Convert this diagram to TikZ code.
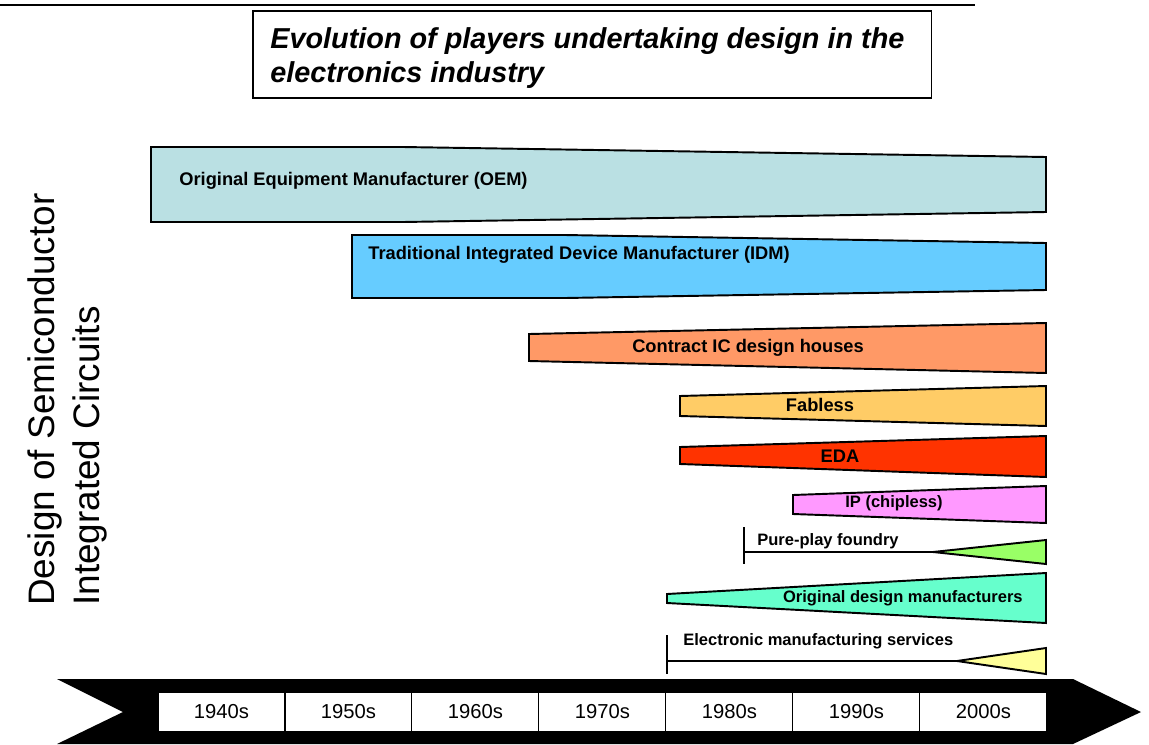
\documentclass[tikz,border=0pt]{standalone}
\usepackage{fontspec}
\setmainfont{Liberation Sans}
\usetikzlibrary{positioning}
\definecolor{oemcol}{rgb}{0.73, 0.88, 0.89}
\definecolor{idmcol}{rgb}{0.4, 0.8, 1}
\definecolor{contractcol}{rgb}{1, 0.6, 0.4}
\definecolor{fablesscol}{rgb}{1, 0.8, 0.4}
\definecolor{edacol}{rgb}{1, 0.2, 0}
\definecolor{ipcol}{rgb}{1, 0.6, 1}
\definecolor{foundrycol}{rgb}{0.6, 1, 0.4}
\definecolor{odmcol}{rgb}{0.4, 1, 0.8}
\definecolor{emscol}{rgb}{1, 1, 0.6}
\tikzstyle{bar} = [draw=black, line width=1.1pt, line join=miter]
\tikzstyle{barlabel} = [inner sep=0pt, font=\fontsize{10.4}{12}\selectfont\bfseries]
\tikzstyle{smalllabel} = [inner sep=0pt, font=\fontsize{9.4}{11}\selectfont\bfseries]
\tikzstyle{decade} = [draw, line width=0.6pt, fill=white, minimum width=2.54cm, minimum height=0.8cm, inner sep=0pt, outer sep=0pt, font=\fontsize{11.5}{13}\selectfont]

\begin{document}
\begin{tikzpicture}[x=0.02cm, y=-0.02cm]
		\useasboundingbox (0,0) rectangle (1149,744);
		\draw[line width=1.3pt] (0,5) -- (975,5);
		\node [draw, line width=0.9pt, minimum width=13.58cm, minimum height=1.74cm, anchor=north west, inner sep=0pt] (titlebox) at (252,10) {};
		\node [anchor=north west, align=left, inner sep=0pt, font=\fontsize{16.4}{19.5}\selectfont\bfseries\itshape] (title) at (270,27) {Evolution of players undertaking design in the\\electronics industry};
		\node [rotate=90, anchor=north west, align=left, inner sep=0pt, font=\fontsize{21}{26}\selectfont] (axis) at (27,606) {Design of Semiconductor\\Integrated Circuits};

		\draw[bar, fill=oemcol] (151,147) -- (403,147) -- (1046,157) -- (1046,212) -- (403,222) -- (151,222) -- cycle;
		\draw[bar, fill=idmcol] (352,235) -- (565,235) -- (1046,243) -- (1046,290) -- (565,298) -- (352,298) -- cycle;
		\draw[bar, fill=contractcol] (529,334) -- (1046,323) -- (1046,373) -- (529,361) -- cycle;
		\draw[bar, fill=fablesscol] (680,396) -- (1046,386) -- (1046,426) -- (680,416) -- cycle;
		\draw[bar, fill=edacol] (680,447) -- (1046,436) -- (1046,477) -- (680,464) -- cycle;
		\draw[bar, fill=ipcol] (793,495) -- (1046,486) -- (1046,523) -- (793,514) -- cycle;
		\draw[bar, fill=odmcol] (667,594) -- (1046,573) -- (1046,623) -- (667,603) -- cycle;

		\coordinate (ppstart) at (744,552);
		\coordinate (pptip) at (933,552);
		\draw[line width=1.1pt] (744,527) -- (744,564);
		\draw[line width=1.1pt] (ppstart) -- (pptip);
		\draw[bar, fill=foundrycol] (pptip) -- (1046,540) -- (1046,564) -- cycle;

		\coordinate (emsstart) at (667,661);
		\coordinate (emstip) at (957,661);
		\draw[line width=1.1pt] (667,635) -- (667,674);
		\draw[line width=1.1pt] (emsstart) -- (emstip);
		\draw[bar, fill=emscol] (emstip) -- (1046,648) -- (1046,674) -- cycle;

		\node [barlabel, anchor=west] (oem) at (179,181) {Original Equipment Manufacturer (OEM)};
		\node [barlabel, anchor=west] (idm) at (368,255) {Traditional Integrated Device Manufacturer (IDM)};
		\node [barlabel] (contract) at (748,348) {Contract IC design houses};
		\node [barlabel] (fabless) at (820,405) {Fabless};
		\node [barlabel] (eda) at (840,456) {EDA};
		\node [smalllabel] (ip) at (894,503) {IP (chipless)};
		\node [smalllabel, anchor=west] (foundry) at (757,541) {Pure-play foundry};
		\node [smalllabel, anchor=east] (odm) at (1023,598) {Original design manufacturers};
		\node [smalllabel, anchor=west] (ems) at (683,641) {Electronic manufacturing services};

		\fill (57,679) -- (1073,679) -- (1141,712) -- (1073,744) -- (57,744) -- (123,712) -- cycle;
		\node [decade] (d40) at (221.5,712) {1940s};
		\node [decade, right=0pt of d40] (d50) {1950s};
		\node [decade, right=0pt of d50] (d60) {1960s};
		\node [decade, right=0pt of d60] (d70) {1970s};
		\node [decade, right=0pt of d70] (d80) {1980s};
		\node [decade, right=0pt of d80] (d90) {1990s};
		\node [decade, right=0pt of d90] (d00) {2000s};
\end{tikzpicture}
\end{document}
